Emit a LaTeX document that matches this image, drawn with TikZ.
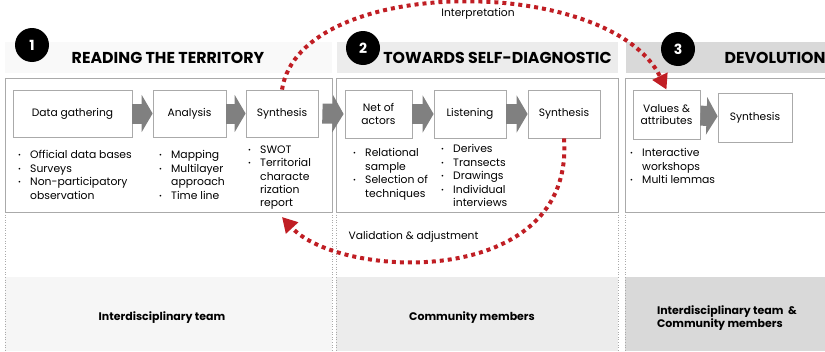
\documentclass[tikz,border=0pt]{standalone}
\usepackage{fontspec}
\setmainfont{Poppins}
\usetikzlibrary{arrows.meta,positioning}

\definecolor{dotred}{RGB}{192,30,36}
\definecolor{framegray}{RGB}{170,170,170}
\definecolor{chevgray}{RGB}{128,128,128}
\definecolor{bandA}{RGB}{246,246,246}
\definecolor{bandB}{RGB}{236,236,236}
\definecolor{bandC}{RGB}{217,217,217}

% bullet with a fixed hanging indent
\newcommand{\bul}{\makebox[12pt][l]{\raisebox{1pt}{\fontsize{7}{7}\selectfont\textbullet}}}
\newcommand{\hang}{\hspace*{12pt}}

\begin{document}
\begin{tikzpicture}[x=1pt,y=-1pt,
  panel/.style={draw=framegray,line width=0.8pt},
  sepline/.style={draw=framegray,dotted,line width=0.6pt},
  stepbox/.style={draw=framegray,fill=white,line width=0.8pt,align=center,
    inner sep=0pt,font=\fontsize{10.7}{12.5}\selectfont},
  itemlist/.style={anchor=north west,align=left,inner sep=0pt,
    font=\fontsize{10.8}{13.4}\selectfont},
  chev/.style={draw=chevgray,line width=20pt,-{Triangle[length=11pt,width=37pt]}},
  loopline/.style={draw=dotred,line width=4pt,dash pattern=on 4pt off 4pt,
    -{Triangle[length=15pt,width=16pt]}},
  numdot/.style={circle,fill=black,minimum size=34pt,inner sep=0pt,
    text=white,font=\fontsize{14}{14}\bfseries},
  headline/.style={font=\fontsize{15.8}{16}\bfseries\selectfont},
  looplabel/.style={font=\fontsize{10.7}{12}\selectfont},
  teamlabel/.style={align=left,font=\fontsize{11}{13.5}\bfseries\selectfont}]
\useasboundingbox (0,0) rectangle (825,351);

% header bands and the bottom bands
\fill[bandA!70!white] (5,42) rectangle (332,73);
\fill[bandB] (337,42) rectangle (618,73);
\fill[bandC] (626,42) rectangle (825,73);
\fill[bandA] (5,277) rectangle (332,351);
\fill[bandB] (336,277) rectangle (618,351);
\fill[bandC] (625,277) rectangle (825,351);

% column frames
\draw[panel] (5,78) rectangle (332,212);
\draw[panel] (336,78) rectangle (618,212);
\draw[panel] (625,78) -- (825,78) (625,78) -- (625,212) -- (825,212);
\foreach \x in {5,332,336,618,625}
  \draw[sepline] (\x,212) -- (\x,351);

% headers
\node[numdot] (num1) at (32,45) {1};
\node[headline] (title1) at (168,58) {READING THE TERRITORY};
\node[numdot] (num2) at (363,48) {2};
\node[headline] (title2) at (497.5,58) {TOWARDS SELF-DIAGNOSTIC};
\node[numdot] (num3) at (678,49) {3};
\node[headline,anchor=west] (title3) at (721,58) {DEVOLUTION};

% steps
\node[stepbox,minimum width=119pt,minimum height=47pt] (gather) at (72.5,113.5) {Data gathering};
\node[stepbox,minimum width=73pt,minimum height=47pt] (analysis) at (189.5,113.5) {Analysis};
\node[stepbox,minimum width=72pt,minimum height=47pt] (synth1) at (282,113.5) {Synthesis};
\node[stepbox,minimum width=67pt,minimum height=48pt] (actors) at (378.5,114) {Net of\\actors};
\node[stepbox,minimum width=72pt,minimum height=48pt] (listen) at (470,114) {Listening};
\node[stepbox,minimum width=72pt,minimum height=48pt] (synth2) at (564,114) {Synthesis};
\node[stepbox,minimum width=67pt,minimum height=49pt] (values) at (666.5,114.5) {Values \&\\attributes};
\node[stepbox,minimum width=74pt,minimum height=49pt] (synth3) at (755,117.5) {Synthesis};

\draw[chev] (gather) -- (analysis);
\draw[chev] (analysis) -- (synth1);
\draw[chev] ([xshift=4pt]synth1.east) -- ([xshift=-1pt]actors.west);
\draw[chev] (actors) -- (listen);
\draw[chev] (listen) -- (synth2);
\draw[chev] (values) -- (synth3);

% what each step involves
\node[itemlist] (list1) at (18,150.5) {\bul Official data bases\\\bul Surveys\\\bul Non-participatory\\\hang observation};
\node[itemlist] (list2) at (159,150.5) {\bul Mapping\\\bul Multilayer\\\hang approach\\\bul Time line};
\node[itemlist] (list3) at (248,145.5) {\bul SWOT\\\bul Territorial\\\hang characte\\\hang rization\\\hang report};
\node[itemlist] (list4) at (353,148.5) {\bul Relational\\\hang sample\\\bul Selection of\\\hang techniques};
\node[itemlist] (list5) at (441,144.5) {\bul Derives\\\bul Transects\\\bul Drawings\\\bul Individual\\\hang interviews};
\node[itemlist] (list6) at (630,148.5) {\bul Interactive\\\hang workshops\\\bul Multi lemmas};

% who takes part
\node[teamlabel] (team1) at (162,318) {Interdisciplinary team};
\node[teamlabel] (team2) at (472,318) {Community members};
\node[teamlabel] (team3) at (727,318) {Interdisciplinary team \ \&\\Community members};

% feedback loops
\coordinate (valend) at (282,217);
\draw[loopline] (synth1.north) .. controls (300,-26) and (610,-26) .. (values.north);
\draw[loopline] (synth2.south) .. controls (575,290) and (340,280) .. (valend);
\node[looplabel] (interp) at (478,14) {Interpretation};
\node[looplabel,anchor=west] (valid) at (345,237) {Validation \& adjustment};
\end{tikzpicture}
\end{document}
